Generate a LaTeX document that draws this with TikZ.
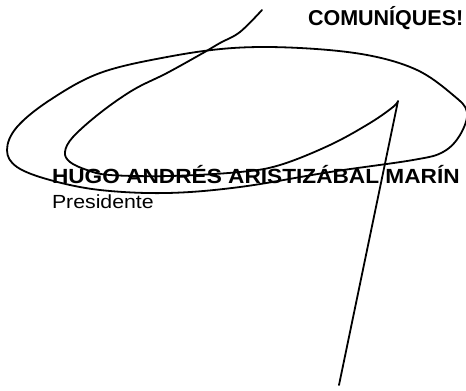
\documentclass[tikz,border=0pt]{standalone}
\usepackage{fontspec}
\usepackage{graphicx}
\setmainfont{Liberation Sans}
\begin{document}
\begin{tikzpicture}[x=1pt,y=-1pt,
  ink/.style={line width=1.8pt,line cap=round,line join=round,black},
  txt/.style={inner sep=0pt,outer sep=0pt,anchor=base west,text=black}]
\useasboundingbox (0,0) rectangle (466,391);
\clip (0,0) rectangle (466,391);
% texts
\node[txt,font=\bfseries\fontsize{21.5}{21.5}\selectfont] (title) at (308,25) {COMUNÍQUES!};
\node[txt,font=\bfseries\fontsize{20.5}{20.5}\selectfont] (name) at (52,183.5) {\scalebox{1.105}[1]{HUGO ANDRÉS ARISTIZÁBAL MARÍN}};
\node[txt,font=\fontsize{19}{19}\selectfont] (role) at (52,208.5) {\scalebox{1.12}[1]{Presidente}};
% outer loop
\draw[ink] plot[smooth cycle, tension=0.6] coordinates {
  (467,112) (453,95) (417,70) (367,55) (300,48) (233,48) (167,57) (100,73)
  (50,100) (17,127) (7,150) (17,167) (50,180) (100,190) (167,193) (240,187)
  (330,172) (413,160) (443,152) (460,135)};
% main stroke
\draw[ink] plot[smooth, tension=0.6] coordinates {
  (262,10) (240,32) (220,43) (203,53) (167,73) (133,90) (100,113) (73,137)
  (65,152) (70,162) (87,170) (110,175) (170,176) (240,172) (280,165)
  (330,145) (370,123) (393,107) (398,101)}
  -- (339,385);
\end{tikzpicture}
\end{document}
